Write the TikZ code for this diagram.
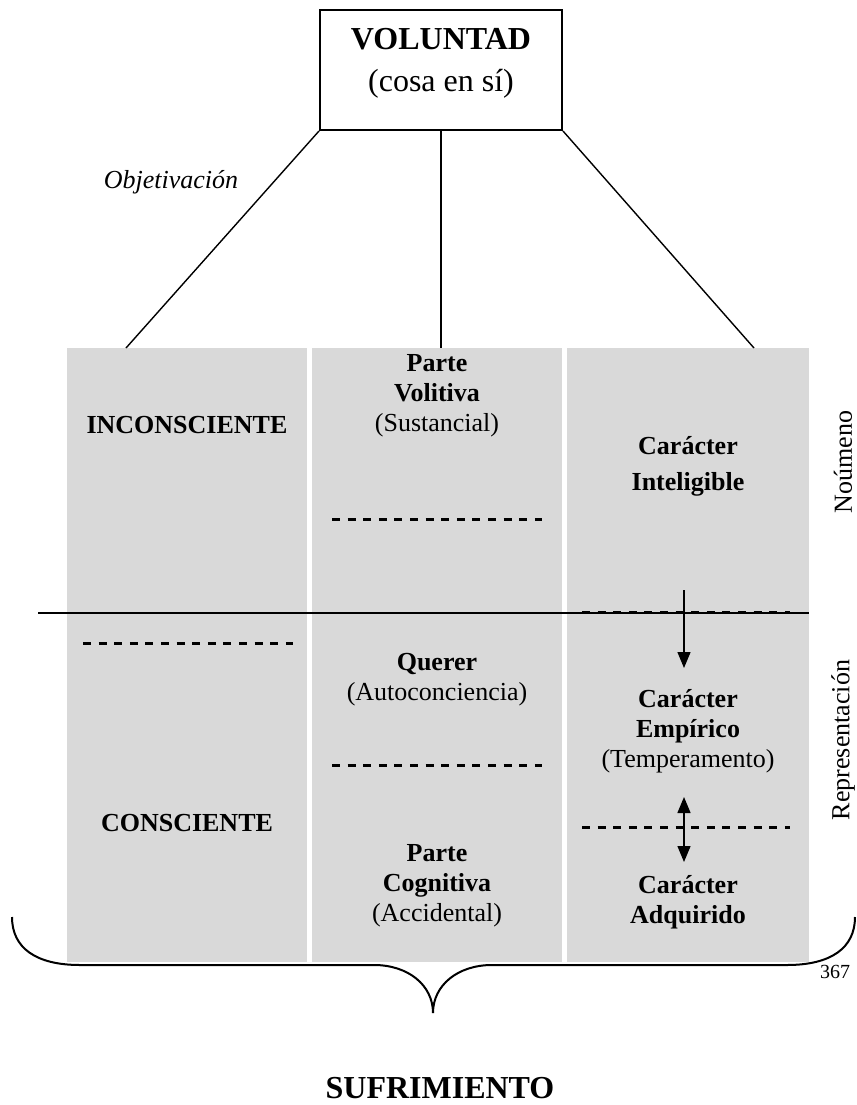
\documentclass[tikz,border=0pt]{standalone}
\usepackage{fontspec}
\setmainfont{Liberation Serif}
\usetikzlibrary{positioning, arrows.meta}

\begin{document}
\begin{tikzpicture}
        [
            x=0.5pt, y=-0.5pt,
            every node/.style={font=\fontsize{13}{15}\selectfont, align=center},
            column/.style={fill=gray!30, minimum height=307pt, inner sep=0pt},
            big/.style={font=\fontsize{16}{21}\selectfont},
            sep/.style={dash pattern=on 4pt off 3.8pt, line width=1.5pt},
            tip/.style={-{Triangle[length=8pt, width=6.5pt]}, line width=0.7pt},
            tips/.style={{Triangle[length=8pt, width=6.5pt]}-{Triangle[length=8pt, width=6.5pt]}, line width=0.7pt}
        ]
        \useasboundingbox (0,0) rectangle (857,1105);
        \node (c1) [column, minimum width=120pt] at (187,655) {};
        \node (c2) [column, minimum width=125pt] at (437,655) {};
        \node (c3) [column, minimum width=121pt] at (688,655) {};
        \node (vol) [draw, line width=1pt, minimum width=121pt, minimum height=60pt] at (441,70) {};
        \node (voltxt) [big] at (441,63) {\bfseries VOLUNTAD\\(cosa en sí)};
        \node (obj) at (171,182) {\itshape Objetivación};
        \coordinate (lt) at (126,348);
        \coordinate (mt) at (441,348);
        \coordinate (rt) at (754,348);
        \foreach \a/\b in {south west/lt, south/mt, south east/rt}
            \draw [line width=0.7pt] (vol.\a) -- (\b);
        \coordinate (hl) at (38,613);
        \draw [line width=0.7pt] (hl) -- (hl -| c3.east);
        \foreach \l/\r/\h in {83/293/643, 332/542/519, 332/542/765, 582/790/612, 582/790/827}
            \draw [sep] (\l,\h) -- (\r,\h);
        \node (incons) at (187,425) {\bfseries INCONSCIENTE};
        \node (cons) at (187,823) {\bfseries CONSCIENTE};
        \node (vlt) at (437,396) {\textbf{Parte}\\\textbf{Volitiva}\\(Sustancial)};
        \node (qrr) at (437,680) {\textbf{Querer}\\(Autoconciencia)};
        \node (cog) at (437,886) {\textbf{Parte}\\\textbf{Cognitiva}\\(Accidental)};
        \node (intl) at (688,466) {\textbf{Carácter}\\[3pt]\textbf{Inteligible}};
        \node (emp) at (688,731) {\textbf{Carácter}\\\textbf{Empírico}\\(Temperamento)};
        \node (adq) at (688,902) {\textbf{Carácter}\\\textbf{Adquirido}};
        \coordinate (a1) at (684,590);
        \coordinate (a2) at (684,668);
        \coordinate (a3) at (684,797);
        \coordinate (a4) at (684,862);
        \draw [tip] (a1) -- (a2);
        \draw [tips] (a3) -- (a4);
        \node (noum) [rotate=90] at (843,462) {Noúmeno};
        \node (repr) [rotate=90] at (843,740) {Representación};
        % llave
        \coordinate (btip) at (433,1013);
        \draw [line width=1pt] (12,917) .. controls (12,948) and (36,965) .. (80,965)
              -- (374,965) .. controls (408,965) and (433,985) .. (btip);
        \draw [line width=1pt] (855,917) .. controls (855,948) and (831,965) .. (787,965)
              -- (492,965) .. controls (458,965) and (433,985) .. (btip);
        \node (pg) [font=\fontsize{10}{12}\selectfont] at (835,972) {367};
        \node (suf) [big] at (440,1088) {\bfseries SUFRIMIENTO};
    \end{tikzpicture}
\end{document}
